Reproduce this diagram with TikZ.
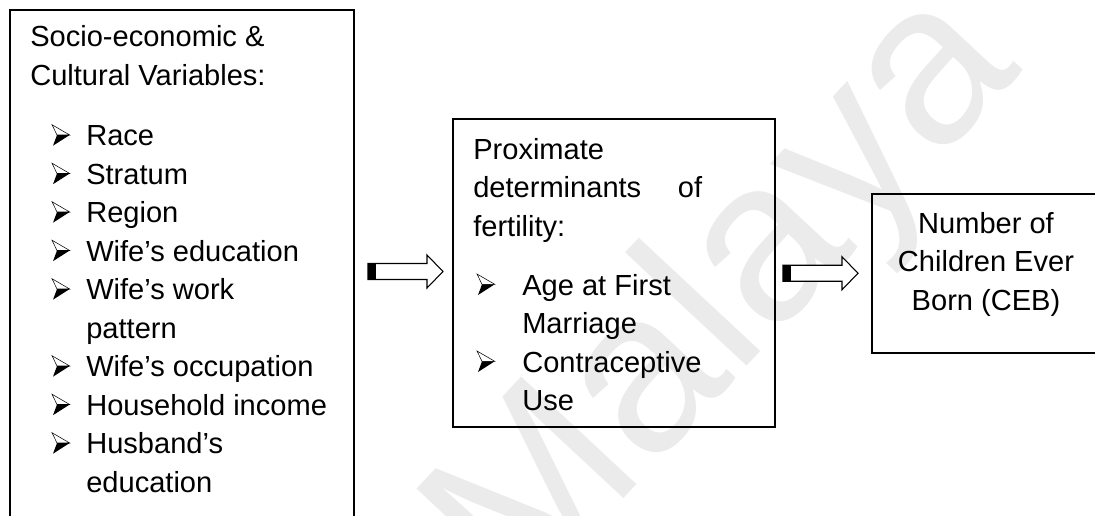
\documentclass[tikz,border=0pt]{standalone}
\usepackage{fontspec}
\setmainfont{Liberation Sans}
\usetikzlibrary{calc}

\tikzset{
  box/.style={draw, line width=1.6pt, outer sep=0pt, inner sep=0pt, anchor=north west},
  txt/.style={anchor=base west, inner sep=0pt},
  ctxt/.style={anchor=base, inner sep=0pt},
  watermark/.style={text=black!8, font=\fontsize{172}{172}\selectfont, inner sep=0pt},
  % pics are not flipped by yscale=-1, so y points up in here
  pics/bullethead/.style={code={
    \draw[line width=0.4pt, fill=white] (0,21) -- (17.7,10.7) -- (5,10.7) -- cycle;
    \fill (5,10.7) -- (17.7,10.7) -- (1,0) -- cycle;
  }},
  pics/blockarrow/.style={code={
    \draw[line width=0.8pt, fill=white] (-37.5,-8) -- (21.5,-8) -- (21.5,-16.5) -- (37.5,0) -- (21.5,16.5) -- (21.5,8) -- (-37.5,8) -- cycle;
    \fill (-37.5,-8) rectangle (-30,8);
  }}
}

\begin{document}
\begin{tikzpicture}[x=0.75pt,y=0.75pt,yscale=-1,font=\fontsize{21.8}{28.9}\selectfont]
\useasboundingbox (0,0) rectangle (1095,515);
\clip (0,0) rectangle (1095,515);

% Watermark
\node[watermark, rotate=47] (wm) at (728,300) {Malaya};

% Boxes
\node[box, minimum width=258pt, minimum height=390pt] (socio) at (10,10) {};
\node[box, minimum width=241.5pt, minimum height=231pt] (prox) at (453,119) {};
\node[box, minimum width=171pt, minimum height=119.25pt] (ceb) at (872,194) {};

% Block arrows
\pic at ($(socio.east)!0.5!(prox.west)+(2,0)$) {blockarrow};
\pic at ($(prox.east)!0.5!(ceb.west)+(-3,0)$) {blockarrow};

% Socio-economic box
\node[txt] (sochead1) at (30,46.7) {Socio-economic \&};
\node[txt] (sochead2) at (30,85.2) {Cultural Variables:};
\foreach \lbl/\hasbullet [count=\k from 0] in {Race/1, Stratum/1, Region/1, Wife’s education/1, Wife’s work/1, pattern/0, Wife’s occupation/1, Household income/1, Husband’s/1, education/0} {
  \node[txt] (socvar\k) at (86,145.7+38.5*\k) {\lbl};
  \ifnum\hasbullet=1 \pic at (52,145.7+38.5*\k) {bullethead};\fi
}

% Proximate determinants box
\node[txt] (proxhead1) at (473,159) {Proximate};
\node[txt] (proxhead2) at (473,197.5) {\hbox to 171.75pt{determinants\hfill of}};
\node[txt] (proxhead3) at (473,236) {fertility:};
\foreach \lbl/\hasbullet [count=\k from 0] in {Age at First/1, Marriage/0, Contraceptive/1, Use/0} {
  \node[txt] (proxvar\k) at (522,295+38.5*\k) {\lbl};
  \ifnum\hasbullet=1 \pic at (477,295+38.5*\k) {bullethead};\fi
}

% CEB box
\node[ctxt] (ceb1) at (986,233) {Number of};
\node[ctxt] (ceb2) at (986,271.5) {Children Ever};
\node[ctxt] (ceb3) at (986,310) {Born (CEB)};

\end{tikzpicture}
\end{document}
